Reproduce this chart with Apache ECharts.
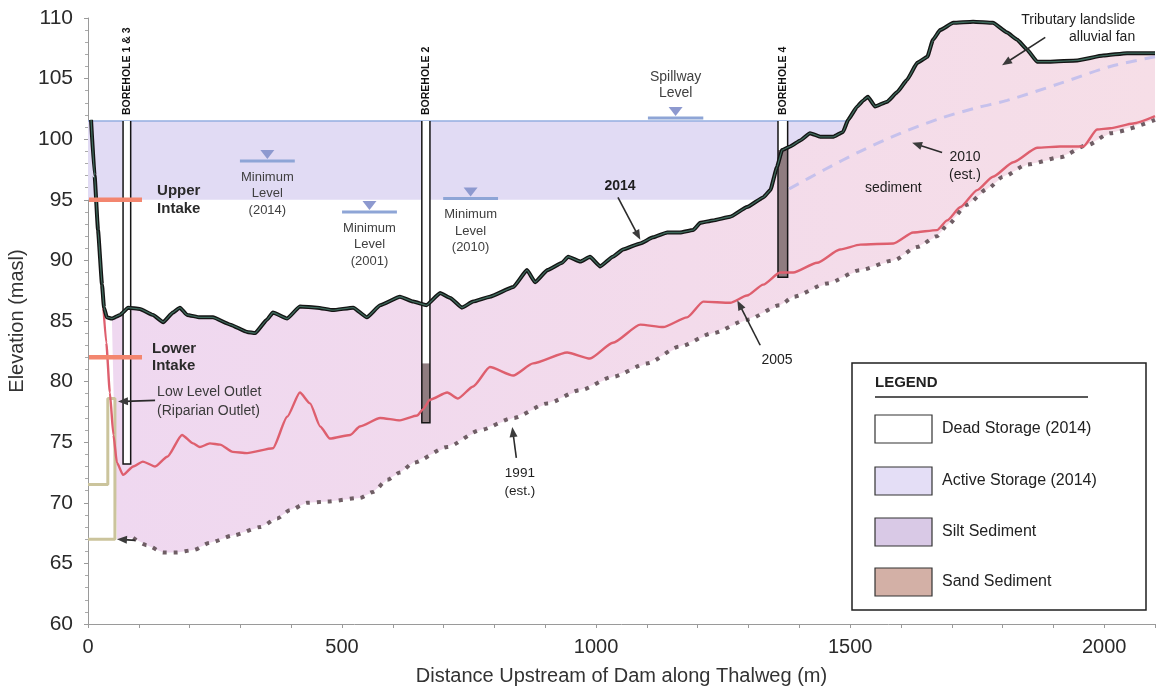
<!DOCTYPE html>
<html>
<head>
<meta charset="utf-8">
<title>Reservoir thalweg profile</title>
<script src="https://cdn.jsdelivr.net/npm/echarts@6/dist/echarts.min.js"></script>
<style>
  html, body { margin: 0; padding: 0; background: #ffffff; }
  #chart { width: 1156px; height: 691px; }
</style>
</head>
<body>
<div id="chart"></div>
<script>
const FONT = "'Liberation Sans', Arial, Helvetica, sans-serif";

// Thalweg profiles: [distance upstream of dam (m), elevation (masl)]
const bed2014 = [
  [6,101.6],[13,97.0],[19.7,92.5],[27.6,88.0],[31.5,86.1],[37,85.3],[47,85.2],[63,85.5],[79,86.1],
  [102,86.0],[128,85.5],[148,84.9],[167,85.7],[181,86.1],[195,85.5],[220,85.3],[246,85.3],[280,84.7],
  [313,84.1],[329,84.0],[352,85.1],[364,85.7],[392,85.2],[417,86.2],[451,86.1],[482,85.9],[522,86.1],
  [549,85.3],[575,86.3],[614,87.0],[640,86.6],[666,86.3],[693,87.3],[713,86.9],[736,86.1],[758,86.6],
  [791,87.0],[837,87.8],[864,89.2],[880,88.2],[904,89.2],[933,89.8],[945,90.3],[969,89.9],[988,90.3],
  [1008,89.5],[1033,90.3],[1053,90.9],[1087,91.4],[1112,91.9],[1140,92.3],[1165,92.3],[1191,92.5],
  [1205,93.1],[1230,93.3],[1264,93.6],[1297,94.4],[1329,95.2],[1343,95.8],[1356,97.7],[1366,99.1],
  [1382,99.4],[1402,99.9],[1421,100.5],[1441,100.2],[1467,100.2],[1486,100.6],[1496,101.6],[1514,102.7],
  [1526,103.2],[1535,103.5],[1549,102.7],[1573,103.1],[1593,103.9],[1612,104.9],[1632,106.3],[1652,106.8],
  [1663,108.2],[1677,109.0],[1703,109.6],[1742,109.7],[1781,109.6],[1809,108.8],[1829,108.2],[1848,107.4],
  [1868,106.4],[1894,106.4],[1947,106.5],[1998,106.9],[2045,107.1],[2100,107.1]
];

const bed2005 = [
  [27.6,88.0],[36,83.2],[43,79.1],[50,75.6],[57,73.3],[69,72.3],[89,73.0],[108,73.4],[132,73.0],
  [156,73.8],[185,75.6],[207,74.9],[220,74.6],[240,74.9],[260,74.8],[285,74.2],[313,74.1],[364,74.5],
  [392,77.1],[417,79.1],[437,78.2],[457,76.3],[476,75.3],[516,75.6],[535,76.3],[575,77.0],[614,76.8],
  [648,77.2],[659,77.7],[673,78.5],[707,79.1],[728,78.6],[758,79.6],[791,81.2],[837,80.5],[876,81.5],
  [943,82.4],[988,81.9],[1033,83.2],[1087,84.7],[1132,84.5],[1179,85.3],[1211,86.6],[1264,86.5],
  [1297,87.1],[1329,88.0],[1362,89.0],[1388,89.0],[1435,89.8],[1480,90.9],[1520,91.3],[1585,91.4],
  [1624,92.3],[1671,92.5],[1691,93.3],[1717,94.4],[1750,95.8],[1781,96.9],[1821,98.1],[1868,99.3],
  [1913,99.4],[1959,99.4],[1986,100.8],[2012,100.9],[2057,101.3],[2100,101.9]
];

const bed1991 = [
  [89,67.1],[116,66.5],[148,65.9],[175,65.9],[207,66.1],[240,66.7],[285,67.3],[339,68.0],[372,68.7],
  [398,69.4],[431,70.0],[470,70.1],[535,70.4],[561,70.9],[589,71.9],[614,72.5],[640,73.3],[707,74.6],
  [772,76.0],[837,77.0],[904,78.2],[969,79.3],[1033,80.4],[1100,81.5],[1165,82.9],[1230,84.0],
  [1297,85.1],[1362,86.3],[1388,87.0],[1455,88.1],[1520,89.2],[1585,90.0],[1632,91.1],[1671,92.0],
  [1691,92.9],[1730,94.6],[1770,95.9],[1801,96.9],[1848,97.9],[1913,98.5],[1966,99.5],[2012,100.5],
  [2100,101.6]
];

const bed2010 = [
  [1380,95.9],[1450,97.5],[1520,99.0],[1600,100.5],[1683,101.8],[1750,102.6],[1809,103.2],
  [1913,104.6],[2012,106.0],[2100,106.8]
];

// Storage zones and structures (elevations in masl, distances in m)
const activeStorage = { from: 0, to: 1496, bottom: 95, top: 101.5 };
const intakes = [
  { name: 'Upper\nIntake', elev: 95 },
  { name: 'Lower\nIntake', elev: 82 }
];
const outletPipe = [[0,71.5],[39,71.5],[39,78.6],[53,78.6],[53,67],[0,67]];
const outletInvert = [57, 67.0];

const boreholes = [
  { name: 'BOREHOLE 1 & 3', left: 69, right: 84, top: 101.5, bottom: 73.2, coreTop: null },
  { name: 'BOREHOLE 2',     left: 657, right: 673, top: 101.5, bottom: 76.6, coreTop: 81.5 },
  { name: 'BOREHOLE 4',     left: 1358, right: 1377, top: 101.5, bottom: 88.6, coreTop: 99.1 }
];

const levelMarks = [
  { label: 'Minimum\nLevel\n(2014)', from: 299, to: 407, elev: 98.2, textBelow: true },
  { label: 'Minimum\nLevel\n(2001)', from: 500, to: 608, elev: 94.0, textBelow: true },
  { label: 'Minimum\nLevel\n(2010)', from: 699, to: 807, elev: 95.1, textBelow: true },
  { label: 'Spillway\nLevel',        from: 1102, to: 1211, elev: 101.75, textBelow: false }
];

const notes = [
  { text: 'Upper\nIntake', x: 136, y: 95.0, size: 15, weight: 'bold', align: 'left', lh: 18, color: '#2a2a2a' },
  { text: 'Lower\nIntake', x: 126, y: 82.0, size: 15, weight: 'bold', align: 'left', lh: 17, color: '#2a2a2a' },
  { text: 'Low Level Outlet\n(Riparian Outlet)', x: 136, y: 78.35, size: 14, align: 'left', lh: 19, color: '#3a3a3a' },
  { text: '2014', x: 1047, y: 96.1, size: 14, weight: 'bold' },
  { text: '2005', x: 1356, y: 81.8, size: 14 },
  { text: '1991\n(est.)', x: 850, y: 71.7, size: 13.5, lh: 18 },
  { text: '2010\n(est.)', x: 1726, y: 97.8, size: 14, lh: 18 },
  { text: 'sediment', x: 1585, y: 96.0, size: 14 },
  { text: 'Tributary landslide\nalluvial fan', x: 2061, y: 109.1, size: 14, align: 'right', lh: 17 }
];

const arrows = [
  { from: [1043, 95.2], to: [1087, 91.7] },
  { from: [1323, 83.0], to: [1278, 86.7] },
  { from: [843, 73.7],  to: [835, 76.25] },
  { from: [1681, 98.9], to: [1622, 99.7] },
  { from: [1884, 108.4], to: [1799, 106.1] },
  { from: [132, 78.45], to: [59, 78.35] },
  { from: [93, 66.9],   to: outletInvert }
];

const legendItems = [
  { label: 'Dead Storage (2014)',   fill: '#ffffff' },
  { label: 'Active Storage (2014)', fill: '#e4def6' },
  { label: 'Silt Sediment',         fill: '#d9c9e6' },
  { label: 'Sand Sediment',         fill: '#d3b0a6' }
];

// Sediment body: 2014 bed down to the 1991 bed, closed at the outlet invert
const sedimentOutline = bed2014.filter(p => p[0] >= 43)
  .concat(bed1991.slice().reverse())
  .concat([outletInvert]);

function polygonSeries(name, points, fill, z) {
  return {
    type: 'custom', name, z, silent: true, clip: true,
    coordinateSystem: 'cartesian2d',
    data: [points[0]],
    renderItem: (params, api) => ({
      type: 'polygon',
      shape: { points: points.map(p => api.coord(p)) },
      style: { fill }
    })
  };
}

function arrowHead(p, q, len, half) {
  const dx = q[0] - p[0], dy = q[1] - p[1];
  const L = Math.hypot(dx, dy) || 1;
  const ux = dx / L, uy = dy / L;
  const bx = q[0] - ux * len, by = q[1] - uy * len;
  return [[q[0], q[1]], [bx - uy * half, by + ux * half], [bx + uy * half, by - ux * half]];
}

const chart = echarts.init(document.getElementById('chart'), null, { renderer: 'canvas' });

const legendGraphic = [];
(function buildLegend() {
  const bx = 852, by = 363, bw = 294, bh = 247;
  legendGraphic.push({ type: 'rect', z: 100, shape: { x: bx, y: by, width: bw, height: bh },
    style: { fill: '#ffffff', stroke: '#1f1f1f', lineWidth: 1.5 } });
  legendGraphic.push({ type: 'text', z: 101, x: 875, y: 383,
    style: { text: 'LEGEND', fill: '#222', fontSize: 15, fontWeight: 'bold', fontFamily: FONT,
      align: 'left', verticalAlign: 'middle', textAlign: 'left', textVerticalAlign: 'middle' } });
  legendGraphic.push({ type: 'line', z: 101, shape: { x1: 875, y1: 397, x2: 1088, y2: 397 },
    style: { stroke: '#222', lineWidth: 1.5 } });
  const rows = [429, 481, 532, 582];
  legendItems.forEach((it, i) => {
    legendGraphic.push({ type: 'rect', z: 101, shape: { x: 875, y: rows[i] - 14, width: 57, height: 28 },
      style: { fill: it.fill, stroke: '#333', lineWidth: 1.2 } });
    legendGraphic.push({ type: 'text', z: 101, x: 942, y: rows[i],
      style: { text: it.label, fill: '#222', fontSize: 16, fontFamily: FONT,
        align: 'left', verticalAlign: 'middle', textAlign: 'left', textVerticalAlign: 'middle' } });
  });
})();

const option = {
  backgroundColor: '#ffffff',
  animation: false,
  textStyle: { fontFamily: FONT },
  grid: { left: 88, right: 1, top: 18, bottom: 67, containLabel: false, outerBoundsMode: 'none' },
  xAxis: {
    type: 'value', min: 0, max: 2100, interval: 100,
    name: 'Distance Upstream of Dam along Thalweg (m)',
    nameLocation: 'middle', nameGap: 42,
    nameTextStyle: { fontSize: 20, color: '#333', fontFamily: FONT },
    axisLine: { show: true, onZero: false, lineStyle: { color: '#9a9a9a', width: 1 } },
    axisTick: { show: true, length: 4, lineStyle: { color: '#9a9a9a' } },
    axisLabel: { fontSize: 20, color: '#2a2a2a', margin: 13, fontFamily: FONT,
      formatter: v => (v % 500 === 0 ? String(v) : '') },
    splitLine: { show: false }
  },
  yAxis: {
    type: 'value', min: 60, max: 110, interval: 5,
    name: 'Elevation (masl)',
    nameLocation: 'middle', nameGap: 56,
    nameTextStyle: { fontSize: 20, color: '#333', fontFamily: FONT },
    axisLine: { show: true, lineStyle: { color: '#9a9a9a', width: 1 } },
    axisTick: { show: true, length: 4, lineStyle: { color: '#9a9a9a' } },
    minorTick: { show: true, splitNumber: 5, length: 3, lineStyle: { color: '#aaaaaa' } },
    axisLabel: { fontSize: 21, color: '#2a2a2a', margin: 15, fontFamily: FONT },
    splitLine: { show: false }
  },
  graphic: legendGraphic,
  series: [
    // Active storage band with its full supply line
    {
      type: 'custom', name: 'Active Storage (2014)', z: 1, silent: true, clip: true,
      coordinateSystem: 'cartesian2d',
      data: [[activeStorage.from, activeStorage.top]],
      renderItem: (params, api) => {
        const a = api.coord([activeStorage.from, activeStorage.top]);
        const b = api.coord([activeStorage.to, activeStorage.bottom]);
        return { type: 'group', children: [
          { type: 'rect', shape: { x: a[0], y: a[1], width: b[0] - a[0], height: b[1] - a[1] },
            style: { fill: '#e1dbf4' } },
          { type: 'line', shape: { x1: a[0], y1: a[1], x2: b[0], y2: a[1] },
            style: { stroke: '#93aee0', lineWidth: 1.6 } }
        ] };
      }
    },
    polygonSeries('Sediment', sedimentOutline, {
      type: 'linear', x: 0, y: 0, x2: 1, y2: 0,
      colorStops: [ { offset: 0, color: '#efd8f0' }, { offset: 0.55, color: '#f3dbeb' }, { offset: 1, color: '#f6dee7' } ]
    }, 2),
    // Boreholes
    {
      type: 'custom', name: 'Boreholes', z: 3, silent: true, clip: false,
      coordinateSystem: 'cartesian2d',
      data: boreholes.map(b => [b.left, b.top]),
      renderItem: (params, api) => {
        const b = boreholes[params.dataIndex];
        const tl = api.coord([b.left, b.top]);
        const br = api.coord([b.right, b.bottom]);
        const kids = [
          { type: 'rect', shape: { x: tl[0], y: tl[1], width: br[0] - tl[0], height: br[1] - tl[1] },
            style: { fill: '#ffffff' } }
        ];
        if (b.coreTop !== null) {
          const ct = api.coord([b.left, b.coreTop]);
          kids.push({ type: 'rect', shape: { x: tl[0], y: ct[1], width: br[0] - tl[0], height: br[1] - ct[1] },
            style: { fill: '#8f7c80' } });
        }
        kids.push({ type: 'polyline', shape: { points: [[tl[0], tl[1]], [tl[0], br[1]], [br[0], br[1]], [br[0], tl[1]]] },
          style: { stroke: '#151515', lineWidth: 1.5, fill: null } });
        kids.push({ type: 'text', x: (tl[0] + br[0]) / 2, y: tl[1] - 6, rotation: Math.PI / 2,
          style: { text: b.name, fill: '#111', fontSize: 10.5, fontWeight: 'bold', fontFamily: FONT,
            align: 'left', verticalAlign: 'middle' } });
        return { type: 'group', children: kids };
      }
    },
    // Estimated 2010 bed
    {
      type: 'line', name: '2010 (est.)', z: 4, data: bed2010, symbol: 'none', smooth: 0.3,
      lineStyle: { color: '#c6c1ec', width: 3, type: [11, 8], cap: 'butt' }, silent: true
    },
    // Low level outlet pipe
    {
      type: 'line', name: 'Low Level Outlet', z: 5, data: outletPipe, symbol: 'none',
      lineStyle: { color: '#cbc49c', width: 3 }, silent: true
    },
    // 1991 bed (estimated)
    {
      type: 'line', name: '1991', z: 6, data: bed1991, symbol: 'none', smooth: 0.25, smoothMonotone: 'x',
      lineStyle: { color: '#6f5e65', width: 4, type: [4, 7], cap: 'butt' }, silent: true
    },
    // 2005 bed
    {
      type: 'line', name: '2005', z: 7, data: bed2005, symbol: 'none', smooth: 0.2, smoothMonotone: 'x',
      lineStyle: { color: '#de5f6e', width: 2.4 }, silent: true
    },
    // 2014 bed
    {
      type: 'line', name: '2014', z: 8, data: bed2014, symbol: 'none', smooth: 0.12, smoothMonotone: 'x',
      lineStyle: { color: '#141414', width: 4 }, silent: true
    },
    {
      type: 'line', name: '2014 core', z: 9, data: bed2014, symbol: 'none', smooth: 0.12, smoothMonotone: 'x',
      lineStyle: { color: '#3f6a5c', width: 1.3 }, silent: true
    },
    // Intake levels
    {
      type: 'custom', name: 'Intakes', z: 10, silent: true, clip: true,
      coordinateSystem: 'cartesian2d',
      data: intakes.map(it => [0, it.elev]),
      renderItem: (params, api) => {
        const it = intakes[params.dataIndex];
        const p = api.coord([0, it.elev]);
        return { type: 'line', shape: { x1: p[0] + 1, y1: p[1], x2: p[0] + 54, y2: p[1] },
          style: { stroke: '#f3866f', lineWidth: 4.5 } };
      }
    },
    // Operating level markers
    {
      type: 'custom', name: 'Levels', z: 11, silent: true, clip: false,
      coordinateSystem: 'cartesian2d',
      data: levelMarks.map(m => [m.from, m.elev]),
      renderItem: (params, api) => {
        const m = levelMarks[params.dataIndex];
        const a = api.coord([m.from, m.elev]);
        const b = api.coord([m.to, m.elev]);
        const cx = (a[0] + b[0]) / 2;
        const y = a[1];
        return { type: 'group', children: [
          { type: 'line', shape: { x1: a[0], y1: y, x2: b[0], y2: y },
            style: { stroke: '#8ea5d6', lineWidth: 3 } },
          { type: 'polygon', shape: { points: [[cx - 7, y - 11], [cx + 7, y - 11], [cx, y - 2]] },
            style: { fill: '#8d99cf' } },
          { type: 'text', x: cx, y: m.textBelow ? y + 8 : y - 17,
            style: { text: m.label, fill: '#404040', fontSize: m.textBelow ? 13 : 14, fontFamily: FONT,
              lineHeight: m.textBelow ? 16.5 : 16, align: 'center',
              verticalAlign: m.textBelow ? 'top' : 'bottom' } }
        ] };
      }
    },
    // Arrows
    {
      type: 'custom', name: 'Arrows', z: 12, silent: true, clip: false,
      coordinateSystem: 'cartesian2d',
      data: arrows.map(a => a.to),
      renderItem: (params, api) => {
        const a = arrows[params.dataIndex];
        const p = api.coord(a.from), q = api.coord(a.to);
        const dx = q[0] - p[0], dy = q[1] - p[1], L = Math.hypot(dx, dy) || 1;
        const e = [q[0] - dx / L * 7, q[1] - dy / L * 7];
        return { type: 'group', children: [
          { type: 'line', shape: { x1: p[0], y1: p[1], x2: e[0], y2: e[1] },
            style: { stroke: '#2b2b2b', lineWidth: 1.6 } },
          { type: 'polygon', shape: { points: arrowHead(p, q, 10, 4) }, style: { fill: '#3b3b3b' } }
        ] };
      }
    },
    // Text notes
    {
      type: 'custom', name: 'Notes', z: 13, silent: true, clip: false,
      coordinateSystem: 'cartesian2d',
      data: notes.map(n => [n.x, n.y]),
      renderItem: (params, api) => {
        const n = notes[params.dataIndex];
        const c = api.coord([n.x, n.y]);
        return { type: 'text', x: c[0], y: c[1],
          style: { text: n.text, fill: n.color || '#1e1e1e', fontSize: n.size, fontWeight: n.weight || 'normal',
            fontFamily: FONT, align: n.align || 'center', verticalAlign: 'middle', lineHeight: n.lh || 17 } };
      }
    }
  ]
};

chart.setOption(option);
</script>
</body>
</html>
